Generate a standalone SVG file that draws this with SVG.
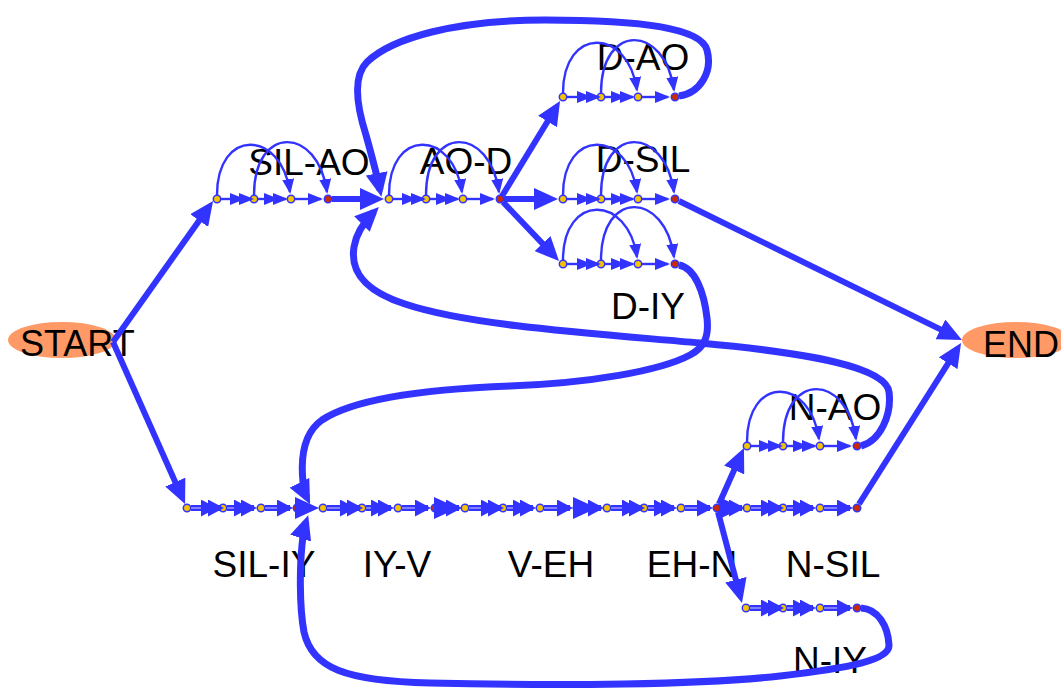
<svg xmlns="http://www.w3.org/2000/svg" width="1061" height="690" viewBox="0 0 1061 690">
<style>
.lbl{font-family:"Liberation Sans",Arial,sans-serif;font-size:37px;fill:#000;text-anchor:middle}
.tl{font-family:"Liberation Sans",Arial,sans-serif;font-size:36px;fill:#000}
.term{fill:#ff9966}
.s{fill:#f5c400;stroke:#3333ff;stroke-width:1.5}
.f{fill:#cc2a00;stroke:#3333ff;stroke-width:1.5}
.t{fill:none;stroke:#3333ff;stroke-width:2.4;marker-end:url(#at)}
.t2{fill:none;stroke:#3333ff;stroke-width:2.4;marker-mid:url(#at);marker-end:url(#at)}
.bw{fill:none;stroke:#3333ff;stroke-width:6}
.bs{fill:none;stroke:#9c9cff;stroke-width:1.3}
.m1{fill:none;stroke:none;marker-end:url(#am)}
.m2{fill:none;stroke:none;marker-mid:url(#am);marker-end:url(#am)}
.m3{fill:none;stroke:none;marker-mid:url(#ab);marker-end:url(#am)}
.m4{fill:none;stroke:none;marker-end:url(#ab)}
.big{fill:none;stroke:#3333ff;stroke-width:6;marker-end:url(#ab)}
.crv{fill:none;stroke:#3333ff;stroke-width:7;marker-end:url(#ab)}
</style>
<defs>
<marker id="at" markerUnits="userSpaceOnUse" markerWidth="15" markerHeight="12" refX="13" refY="6" orient="auto"><path d="M0,0 L15,6 L0,12 z" fill="#3333ff"/></marker>
<marker id="am" markerUnits="userSpaceOnUse" markerWidth="16" markerHeight="17" refX="13" refY="8.5" orient="auto"><path d="M0,0 L16,8.5 L0,17 z" fill="#3333ff"/></marker>
<marker id="ab" markerUnits="userSpaceOnUse" markerWidth="24" markerHeight="22" refX="17" refY="11" orient="auto"><path d="M0,0 L24,11 L0,22 z" fill="#3333ff"/></marker>
</defs>
<rect width="1061" height="690" fill="#fff"/>

<g id="START"><ellipse class="term" cx="62" cy="340" rx="54" ry="18"/><text class="tl" x="20" y="356">START</text></g>
<g id="END"><ellipse class="term" cx="1016" cy="340" rx="54" ry="18"/><text class="tl" x="983" y="357">END</text></g>

<g id="SIL-AO"><circle class="s" cx="217" cy="199" r="3.7"/><circle class="s" cx="254" cy="199" r="3.7"/><circle class="s" cx="291" cy="199" r="3.7"/><circle class="f" cx="328" cy="199" r="3.7"/><text class="lbl" x="309" y="175">SIL-AO</text></g>
<g id="AO-D"><circle class="s" cx="389" cy="199" r="3.7"/><circle class="s" cx="426" cy="199" r="3.7"/><circle class="s" cx="463" cy="199" r="3.7"/><circle class="f" cx="500" cy="199" r="3.7"/><text class="lbl" x="466" y="174">AO-D</text></g>
<g id="D-AO"><circle class="s" cx="563" cy="97" r="3.7"/><circle class="s" cx="601" cy="97" r="3.7"/><circle class="s" cx="638" cy="97" r="3.7"/><circle class="f" cx="675" cy="97" r="3.7"/><text class="lbl" x="643" y="70">D-AO</text></g>
<g id="D-SIL"><circle class="s" cx="563" cy="199" r="3.7"/><circle class="s" cx="601" cy="199" r="3.7"/><circle class="s" cx="638" cy="199" r="3.7"/><circle class="f" cx="675" cy="199" r="3.7"/><text class="lbl" x="643" y="172">D-SIL</text></g>
<g id="D-IY"><circle class="s" cx="563" cy="264" r="3.7"/><circle class="s" cx="601" cy="264" r="3.7"/><circle class="s" cx="638" cy="264" r="3.7"/><circle class="f" cx="675" cy="264" r="3.7"/><text class="lbl" x="648" y="319">D-IY</text></g>
<g id="N-AO"><circle class="s" cx="747" cy="446" r="3.7"/><circle class="s" cx="783" cy="446" r="3.7"/><circle class="s" cx="820" cy="446" r="3.7"/><circle class="f" cx="857" cy="446" r="3.7"/><text class="lbl" x="835" y="420">N-AO</text></g>
<g id="SIL-IY"><circle class="s" cx="187" cy="508" r="3.7"/><circle class="s" cx="223" cy="508" r="3.7"/><circle class="s" cx="261" cy="508" r="3.7"/><circle class="f" cx="297" cy="508" r="3.7"/><text class="lbl" x="264" y="577">SIL-IY</text></g>
<g id="IY-V"><circle class="s" cx="323" cy="508" r="3.7"/><circle class="s" cx="362" cy="508" r="3.7"/><circle class="s" cx="398" cy="508" r="3.7"/><circle class="f" cx="435" cy="508" r="3.7"/><text class="lbl" x="397" y="577">IY-V</text></g>
<g id="V-EH"><circle class="s" cx="465" cy="508" r="3.7"/><circle class="s" cx="503" cy="508" r="3.7"/><circle class="s" cx="540" cy="508" r="3.7"/><circle class="f" cx="577" cy="508" r="3.7"/><text class="lbl" x="551" y="577">V-EH</text></g>
<g id="EH-N"><circle class="s" cx="607" cy="508" r="3.7"/><circle class="s" cx="644" cy="508" r="3.7"/><circle class="s" cx="681" cy="508" r="3.7"/><circle class="f" cx="717" cy="508" r="3.7"/><text class="lbl" x="692" y="577">EH-N</text></g>
<g id="N-SIL"><circle class="s" cx="747" cy="508" r="3.7"/><circle class="s" cx="783" cy="508" r="3.7"/><circle class="s" cx="820" cy="508" r="3.7"/><circle class="f" cx="857" cy="508" r="3.7"/><text class="lbl" x="833" y="577">N-SIL</text></g>
<g id="N-IY"><circle class="s" cx="746" cy="608" r="3.7"/><circle class="s" cx="783" cy="608" r="3.7"/><circle class="s" cx="820" cy="608" r="3.7"/><circle class="f" cx="857" cy="608" r="3.7"/><text class="lbl" x="830" y="673">N-IY</text></g>

<g id="connectors">
<path class="t2" d="M221,199 L243,199 L252,199"/><path class="t2" d="M258,199 L277,199 L286,199"/><path class="t" d="M295,199 L321,199"/>
<path class="t" d="M217,195 C217,128 281,129 290,192"/><path class="t" d="M254,195 C254,124 318,126 327,192"/>
<path class="t2" d="M393,199 L415,199 L424,199"/><path class="t2" d="M430,199 L449,199 L458,199"/><path class="t" d="M467,199 L493,199"/>
<path class="t" d="M389,195 C389,128 453,129 462,192"/><path class="t" d="M426,195 C426,124 490,126 499,192"/>
<path class="t2" d="M567,97 L590,97 L599,97"/><path class="t2" d="M605,97 L624,97 L633,97"/><path class="t" d="M642,97 L668,97"/>
<path class="t" d="M563,93 C563,26 628,27 637,90"/><path class="t" d="M601,93 C601,22 665,24 674,90"/>
<path class="t2" d="M567,199 L590,199 L599,199"/><path class="t2" d="M605,199 L624,199 L633,199"/><path class="t" d="M642,199 L668,199"/>
<path class="t" d="M563,195 C563,128 628,129 637,192"/><path class="t" d="M601,195 C601,124 665,126 674,192"/>
<path class="t2" d="M567,264 L590,264 L599,264"/><path class="t2" d="M605,264 L624,264 L633,264"/><path class="t" d="M642,264 L668,264"/>
<path class="t" d="M563,260 C563,193 628,194 637,257"/><path class="t" d="M601,260 C601,189 665,191 674,257"/>
<path class="t2" d="M751,446 L772,446 L781,446"/><path class="t2" d="M787,446 L806,446 L815,446"/><path class="t" d="M824,446 L850,446"/>
<path class="t" d="M747,442 C747,375 810,376 819,439"/><path class="t" d="M783,442 C783,371 847,373 856,439"/>

<path class="bw" d="M191,508 L221,508 M227,508 L254,508 M265,508 L290,508 M301,508 L312,508 M327,508 L360,508 M366,508 L391,508 M402,508 L428,508 M439,508 L459,508 M469,508 L501,508 M507,508 L533,508 M544,508 L570,508 M581,508 L601,508 M611,508 L642,508 M648,508 L674,508 M685,508 L710,508 M721,508 L742,508 M751,508 L781,508 M787,508 L813,508 M824,508 L850,508 M750,608 L781,608 M787,608 L813,608 M824,608 L850,608"/>
<path class="bs" d="M191,508 L221,508 M227,508 L254,508 M265,508 L290,508 M301,508 L312,508 M327,508 L360,508 M366,508 L391,508 M402,508 L428,508 M439,508 L459,508 M469,508 L501,508 M507,508 L533,508 M544,508 L570,508 M581,508 L601,508 M611,508 L642,508 M648,508 L674,508 M685,508 L710,508 M721,508 L742,508 M751,508 L781,508 M787,508 L813,508 M824,508 L850,508 M750,608 L781,608 M787,608 L813,608 M824,608 L850,608"/>
<path class="m2" d="M191,508 L214,508 L221,508"/><path class="m2" d="M227,508 L247,508 L254,508"/><path class="m1" d="M265,508 L290,508"/>
<path class="m4" d="M301,508 L312,508"/>
<path class="m2" d="M327,508 L353,508 L360,508"/><path class="m2" d="M366,508 L384,508 L391,508"/><path class="m1" d="M402,508 L428,508"/>
<path class="m3" d="M439,508 L451,508 L459,508"/>
<path class="m2" d="M469,508 L494,508 L501,508"/><path class="m2" d="M507,508 L526,508 L533,508"/><path class="m1" d="M544,508 L570,508"/>
<path class="m3" d="M581,508 L590,508 L601,508"/>
<path class="m2" d="M611,508 L635,508 L642,508"/><path class="m2" d="M648,508 L667,508 L674,508"/><path class="m1" d="M685,508 L710,508"/>
<path class="m3" d="M721,508 L736,508 L742,508"/>
<path class="m2" d="M751,508 L774,508 L781,508"/><path class="m2" d="M787,508 L806,508 L813,508"/><path class="m1" d="M824,508 L850,508"/>
<path class="m2" d="M750,608 L774,608 L781,608"/><path class="m2" d="M787,608 L806,608 L813,608"/><path class="m1" d="M824,608 L850,608"/>

<path class="big" d="M113,342 L209,206.7"/>
<path class="big" d="M113,342 L182.2,497.6"/>
<path class="big" d="M332,199 L377,199"/>
<path class="big" d="M502,196 L556.4,107"/>
<path class="big" d="M504,199 L551,199"/>
<path class="big" d="M503,202 L554.2,255.9"/>
<path class="big" d="M679,201 L955.7,336.9"/>
<path class="big" d="M859,504 L957.3,348.9"/>
<path class="big" d="M719,504 L741.1,454.4"/>
<path class="big" d="M718,512 L740.2,596.2"/>

<path class="crv" d="M679,96 C700,93 713,72 707,50 C701,28 640,20 545,20 C455,20 392,38 367,62 C351,78 358,110 366,135 C371,153 377,175 380,190"/>
<path class="crv" d="M861,446 C880,441 892,415 889,392 C886,367 810,353 700,343 C600,334 470,326 405,304 C365,291 350,272 354,247 C356,234 362,224 374,212"/>
<path class="crv" d="M679,265 C695,268 704,292 707,318 C709,336 705,347 690,355 C660,371 590,383 510,386 C430,389 355,398 322,420 C302,434 301,462 303,482 C304,490 305,494 307,498"/>
<path class="crv" d="M861,608 C878,609 888,626 889,645 C890,660 850,668 780,676 C700,685 560,686 430,683 C345,681 312,668 304,632 C299,605 300,565 302,545 C303,535 304,528 306,522"/>
</g>
</svg>
